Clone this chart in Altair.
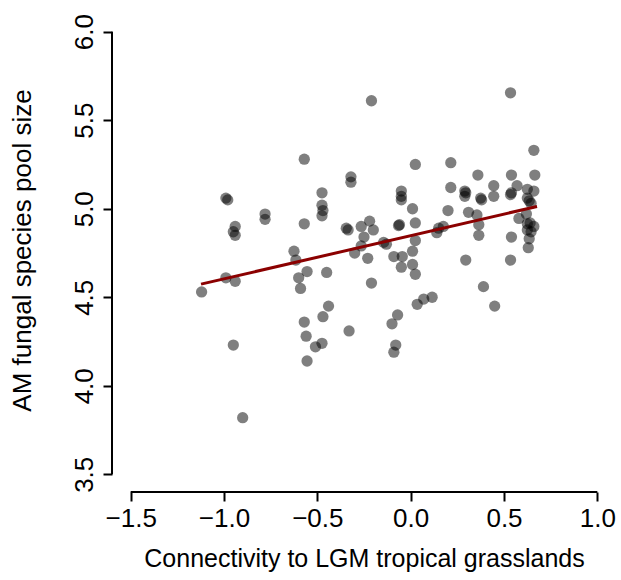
import altair as alt
import pandas as pd

connectivity = [
    -1.12, -0.99, -0.98, -0.94, -0.95, -0.94, -0.78, -0.78, -0.99, -0.94, -0.95, -0.90,
    -0.21, -0.57, -0.32, -0.32, -0.475, -0.475, -0.47, -0.475, -0.57, -0.345, -0.335,
    -0.265, -0.22, -0.20, -0.25, -0.265, -0.30, -0.23, -0.625, -0.615, -0.145, -0.13,
    -0.60, -0.59, -0.555, -0.45, -0.21, -0.44, -0.47, -0.57, -0.56, -0.33, -0.51, -0.475,
    -0.555, -0.07, -0.10, -0.08, -0.09, 0.035, 0.07, 0.115, 0.39, 0.45,
    -0.05, -0.05, -0.05, 0.025, 0.01, -0.06, -0.065, 0.025, 0.025, 0.01, -0.09, -0.045,
    -0.05, 0.01, 0.025,
    0.215, 0.215, 0.20, 0.15, 0.14, 0.175, 0.29, 0.295, 0.29, 0.31, 0.355, 0.36, 0.375,
    0.38, 0.365, 0.365, 0.295, 0.445, 0.445, 0.535, 0.54, 0.54, 0.535, 0.54, 0.535,
    0.66, 0.665, 0.57, 0.625, 0.66, 0.625, 0.635, 0.645, 0.58, 0.62, 0.625, 0.625,
    0.645, 0.635, 0.66, 0.63, 0.64,
]
pool_size = [
    4.53, 5.06, 5.05, 4.90, 4.87, 4.85, 4.97, 4.94, 4.61, 4.59, 4.23, 3.82,
    5.61, 5.28, 5.18, 5.15, 5.09, 5.02, 4.99, 4.96, 4.915, 4.89, 4.88,
    4.90, 4.93, 4.88, 4.84, 4.79, 4.75, 4.72, 4.76, 4.71, 4.81, 4.80,
    4.61, 4.55, 4.645, 4.64, 4.58, 4.45, 4.39, 4.36, 4.28, 4.31, 4.22, 4.24,
    4.14, 4.40, 4.35, 4.23, 4.19, 4.46, 4.49, 4.50, 4.56, 4.45,
    5.10, 5.07, 5.05, 5.25, 5.00, 4.91, 4.905, 4.92, 4.82, 4.76, 4.73, 4.73,
    4.67, 4.685, 4.63,
    5.26, 5.12, 4.99, 4.89, 4.865, 4.90, 5.10, 5.09, 5.07, 4.98, 4.965, 5.19, 5.06,
    5.05, 4.91, 4.85, 4.71, 5.13, 5.07, 5.655, 5.19, 5.09, 5.08, 4.84, 4.71,
    5.33, 5.19, 5.13, 5.11, 5.10, 5.06, 5.045, 5.03, 4.945, 4.97, 4.915, 4.88,
    4.87, 4.83, 4.90, 4.78, 4.92,
]
fit_x = [-1.123, 0.677]
fit_y = [4.574, 5.013]
x_ticks = [-1.5, -1.0, -0.5, 0.0, 0.5, 1.0]
y_ticks = [3.5, 4.0, 4.5, 5.0, 5.5, 6.0]
x_title = "Connectivity to LGM tropical grasslands"
y_title = "AM fungal species pool size"

W, H = 504, 478
FONT = "Liberation Sans"

xs = alt.Scale(domain=[-1.6, 1.1], nice=False, zero=False)
ys = alt.Scale(domain=[3.4, 6.1], nice=False, zero=False)

x_axis = alt.Axis(
    values=x_ticks, format=".1f", domain=False, grid=False,
    tickSize=9, tickWidth=2, tickColor="black",
    labelFont=FONT, labelFontSize=26, labelColor="black", labelPadding=4,
    labelBaseline="top", labelAlign="center", labelFlush=False,
    title=x_title, titleFont=FONT, titleFontSize=25, titleFontWeight="normal",
    titleColor="black", titleX=W / 2, titleY=66, titleAlign="center",
    titleBaseline="middle",
)
y_axis = alt.Axis(
    values=y_ticks, format=".1f", domain=False, grid=False,
    tickSize=9, tickWidth=2, tickColor="black",
    labelFont=FONT, labelFontSize=26, labelColor="black", labelPadding=6,
    labelAngle=270, labelAlign="center", labelBaseline="bottom", labelFlush=False,
    title=y_title, titleFont=FONT, titleFontSize=26, titleFontWeight="normal",
    titleColor="black", titleX=-90, titleY=236, titleAngle=270,
    titleAlign="center", titleBaseline="middle",
)

pts_df = pd.DataFrame({"x": connectivity, "y": pool_size})
fit_df = pd.DataFrame({"x": fit_x, "y": fit_y})
xdom_df = pd.DataFrame({"x": [x_ticks[0]], "x2": [x_ticks[-1]]})
ydom_df = pd.DataFrame({"y": [y_ticks[0]], "y2": [y_ticks[-1]]})

points = alt.Chart(pts_df).mark_circle(size=127, color="black", opacity=0.5).encode(
    x=alt.X("x:Q", scale=xs, axis=x_axis, title=x_title),
    y=alt.Y("y:Q", scale=ys, axis=y_axis, title=y_title),
)
fit = alt.Chart(fit_df).mark_line(color="#8B0000", strokeWidth=3).encode(
    x=alt.X("x:Q", scale=xs, axis=x_axis, title=x_title),
    y=alt.Y("y:Q", scale=ys, axis=y_axis, title=y_title),
)
xdom = alt.Chart(xdom_df).mark_rule(color="black", strokeWidth=2).encode(
    x=alt.X("x:Q", scale=xs, axis=x_axis, title=x_title),
    x2="x2:Q",
    y=alt.value(H),
)
ydom = alt.Chart(ydom_df).mark_rule(color="black", strokeWidth=2).encode(
    y=alt.Y("y:Q", scale=ys, axis=y_axis, title=y_title),
    y2="y2:Q",
    x=alt.value(0),
)

chart = (
    alt.layer(points, fit, xdom, ydom)
    .properties(
        width=W, height=H,
        padding={"left": 112, "top": 14, "right": 5, "bottom": 88},
        autosize=alt.AutoSizeParams(type="none"),
        background="white",
    )
    .configure_view(stroke=None)
)

chart.save("out.html", embed_options={"renderer": "svg", "actions": False})
